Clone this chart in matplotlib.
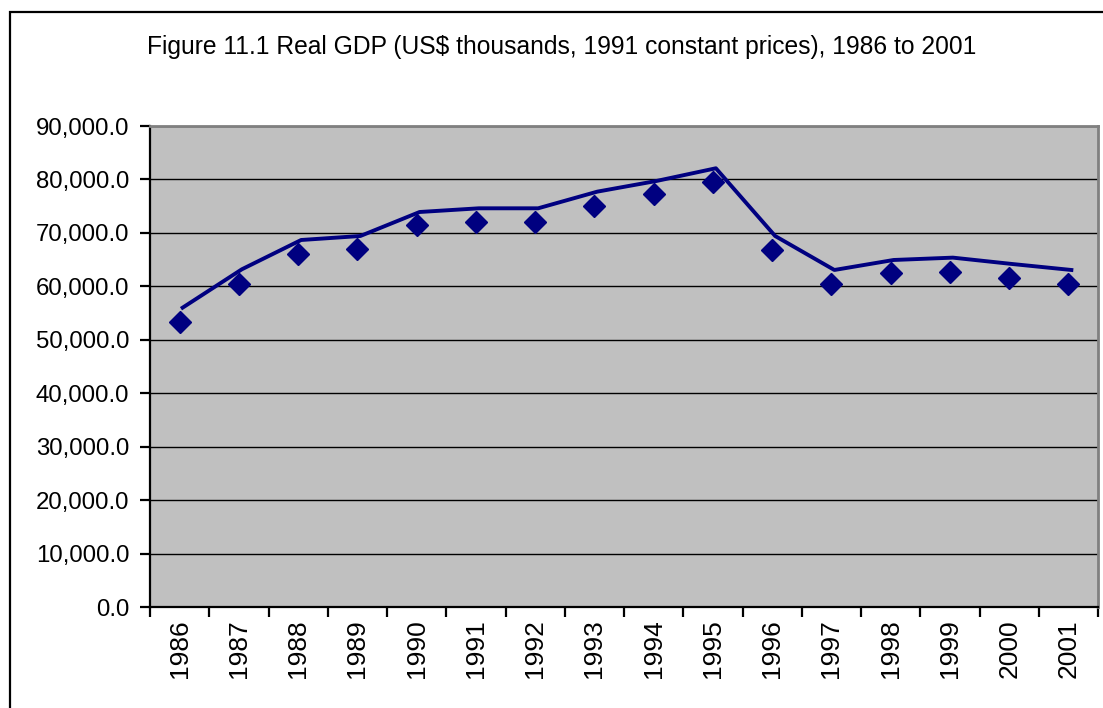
import matplotlib
matplotlib.use("Agg")
import matplotlib.pyplot as plt
from matplotlib.patches import Rectangle
from matplotlib.transforms import offset_copy
from matplotlib.ticker import FuncFormatter, FixedLocator
import numpy as np

plt.rcParams['font.family'] = ['Liberation Sans', 'DejaVu Sans']

years = ["1986", "1987", "1988", "1989", "1990", "1991", "1992", "1993",
         "1994", "1995", "1996", "1997", "1998", "1999", "2000", "2001"]
line_values = [56010, 63190, 68670, 69420, 73910, 74600, 74600, 77720,
               79720, 82090, 69420, 63060, 64930, 65370, 64180, 63060]
marker_values = [53400, 60440, 66050, 66930, 71420, 72100, 72100, 75100,
                 77340, 79530, 66800, 60500, 62440, 62750, 61620, 60500]
title = "Figure 11.1 Real GDP (US$ thousands, 1991 constant prices), 1986 to 2001"

W, H = 1103, 708
fig = plt.figure(figsize=(W / 100, H / 100), dpi=100)
fig.patch.set_facecolor("white")

# outer chart border (left and top visible)
fig.add_artist(Rectangle((10 / W, -0.1), 1.2, (H - 12) / H + 0.1,
                         transform=fig.transFigure, fill=False,
                         edgecolor="black", linewidth=1.6))

left, right, top, bottom = 150, 1098, 126, 607
ax = fig.add_axes([left / W, 1 - bottom / H, (right - left) / W, (bottom - top) / H])
ax.set_facecolor("#C0C0C0")

x = np.arange(len(years))
trans = offset_copy(ax.transData, fig=fig, x=3, y=0, units="dots")
ax.plot(x, line_values, color="#000080", linewidth=2.8, transform=trans, zorder=3)
ax.plot(x, marker_values, linestyle="none", marker="D", markersize=11,
        color="#000080", zorder=4)

ax.set_xlim(-0.5, len(years) - 0.5)
ax.set_ylim(0, 90000)
ax.set_yticks(np.arange(0, 90001, 10000))
ax.yaxis.set_major_formatter(FuncFormatter(lambda v, p: f"{v:,.1f}"))
ax.yaxis.grid(True, color="black", linewidth=1.0)
ax.set_axisbelow(True)

ax.xaxis.set_major_locator(FixedLocator(np.arange(len(years) + 1) - 0.5))
ax.xaxis.set_minor_locator(FixedLocator(x))
ax.set_xticklabels([], minor=False)
ax.set_xticklabels(years, minor=True, rotation=90, fontsize=19)
ax.tick_params(axis="x", which="major", length=7, width=1.6, color="black")
ax.tick_params(axis="x", which="minor", length=0, pad=9)
ax.tick_params(axis="y", length=7, width=1.6, color="black", labelsize=17.3, pad=8)

for s in ["left", "bottom"]:
    ax.spines[s].set_color("black")
    ax.spines[s].set_linewidth(1.6)
for s in ["top", "right"]:
    ax.spines[s].set_color("#808080")
    ax.spines[s].set_linewidth(2.0)

fig.text(562 / W, 1 - 47 / H, title, ha="center", va="center", fontsize=17.7)

fig.savefig("out.png", dpi=100)
